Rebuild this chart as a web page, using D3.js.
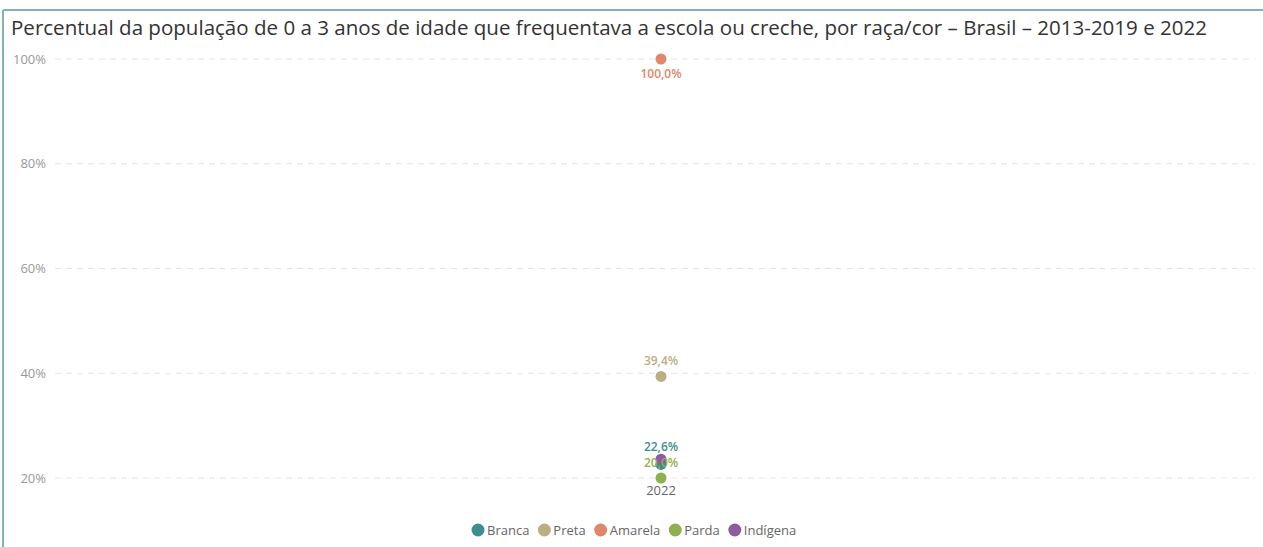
<!DOCTYPE html>
<html>
<head>
<meta charset="utf-8">
<script src="https://cdn.jsdelivr.net/npm/d3@7"></script>
<style>
  body { margin: 0; background: #fff; }
  svg { display: block; font-family: "Segoe UI", "Open Sans", "Noto Sans", sans-serif; }
</style>
</head>
<body>
<svg id="chart" width="1263" height="547"></svg>
<script>
// data
var years = ["2022"];
var racas = ["Branca", "Preta", "Amarela", "Parda", "Indígena"];
var cores = ["#3e8f91", "#bcae83", "#e0866a", "#8fb04e", "#8e5aa0"];
var valores2022 = [22.6, 39.4, 100.0, 20.0, 23.6];
var yTicks = [20, 40, 60, 80, 100];
// labels shown in the original (Indígena's label is hidden behind the others)
var mostrarRotulo = [true, true, true, true, false];

var svg = d3.select("#chart");
var W = 1263, H = 547;

// frame lines (left + top)
svg.append("line").attr("x1", 3).attr("x2", 3).attr("y1", 10).attr("y2", H)
  .attr("stroke", "#7fb3b5").attr("stroke-width", 2);
svg.append("line").attr("x1", 3).attr("x2", W).attr("y1", 10).attr("y2", 10)
  .attr("stroke", "#7fb3b5").attr("stroke-width", 2);

svg.append("text")
  .attr("x", 11).attr("y", 35)
  .attr("font-size", 20)
  .attr("textLength", 1196)
  .attr("lengthAdjust", "spacingAndGlyphs")
  .attr("fill", "#333")
  .text("Percentual da população de 0 a 3 anos de idade que frequentava a escola ou creche, por raça/cor – Brasil – 2013-2019 e 2022");

var x = d3.scaleBand().domain(years).range([55, 1267]);
var y = d3.scaleLinear().domain([20, 100]).range([478, 59]);

// y axis with dashed grid
var yAxis = svg.append("g")
  .attr("transform", "translate(55,0)")
  .call(d3.axisLeft(y).tickValues(yTicks).tickSize(0).tickPadding(9)
    .tickFormat(function(d) { return d + "%"; }));
yAxis.select(".domain").remove();
yAxis.selectAll("text").attr("fill", "#999").attr("font-size", 13)
  .style("font-family", "'Segoe UI', 'Open Sans', sans-serif");

svg.append("g").selectAll("line")
  .data(yTicks).enter().append("line")
  .attr("x1", 55).attr("x2", 1255)
  .attr("y1", function(d) { return y(d); })
  .attr("y2", function(d) { return y(d); })
  .attr("stroke", "#e3e3e3")
  .attr("stroke-dasharray", "6,5");

// x axis
var xAxis = svg.append("g")
  .attr("transform", "translate(0,480)")
  .call(d3.axisBottom(x).tickSize(0).tickPadding(6));
xAxis.select(".domain").remove();
xAxis.selectAll("text").attr("fill", "#666").attr("font-size", 13)
  .style("font-family", "'Segoe UI', 'Open Sans', sans-serif");

var pontos = racas.map(function(r, i) {
  return { raca: r, cor: cores[i], valor: valores2022[i], ano: "2022", rotulo: mostrarRotulo[i] };
});

var cx = function(d) { return x(d.ano) + x.bandwidth() / 2; };

svg.append("g").selectAll("circle")
  .data(pontos).enter().append("circle")
  .attr("cx", cx)
  .attr("cy", function(d) { return y(d.valor); })
  .attr("r", 5.5)
  .attr("fill", function(d) { return d.cor; });

svg.append("g").selectAll("text")
  .data(pontos.filter(function(d) { return d.rotulo; })).enter().append("text")
  .attr("x", cx)
  .attr("y", function(d) {
    if (d.valor >= 100) return y(d.valor) + 19;
    if (d.raca === "Branca") return y(d.valor) - 13;
    return y(d.valor) - 11;
  })
  .attr("text-anchor", "middle")
  .attr("font-size", 12)
  .attr("font-weight", 600)
  .attr("fill", function(d) { return d.cor; })
  .text(function(d) { return d.valor.toFixed(1).replace(".", ",") + "%"; });

// legend
var legend = svg.append("g").attr("transform", "translate(0,530)");
var lx = 471;
racas.forEach(function(r, i) {
  legend.append("circle").attr("cx", lx + 7).attr("cy", 0).attr("r", 6.5).attr("fill", cores[i]);
  var t = legend.append("text").attr("x", lx + 16).attr("y", 4.5)
    .attr("font-size", 13).attr("fill", "#666").text(r);
  lx += 16 + t.node().getComputedTextLength() + 8;
});
</script>
</body>
</html>
